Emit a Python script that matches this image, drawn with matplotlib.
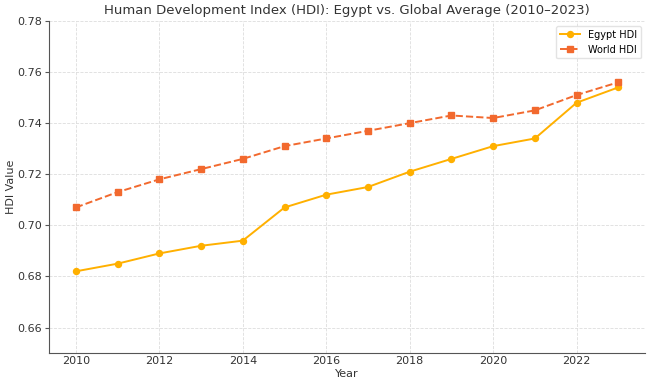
import matplotlib
matplotlib.use("Agg")
import matplotlib.pyplot as plt

years = list(range(2010, 2024))
egypt_hdi = [0.682, 0.685, 0.689, 0.692, 0.694, 0.707, 0.712, 0.715, 0.721, 0.726, 0.731, 0.734, 0.748, 0.754]
world_hdi = [0.707, 0.713, 0.718, 0.722, 0.726, 0.731, 0.734, 0.737, 0.740, 0.743, 0.742, 0.745, 0.751, 0.756]

fig, ax = plt.subplots(figsize=(6.5, 3.88), dpi=100)

ax.plot(years, egypt_hdi, color="#FFB000", marker="o", markersize=4.3, linewidth=1.4, label="Egypt HDI")
ax.plot(years, world_hdi, color="#F2692E", marker="s", markersize=4.3, linewidth=1.4, linestyle="--", label="World HDI")

ax.set_title("Human Development Index (HDI): Egypt vs. Global Average (2010\u20132023)",
             fontsize=9.5, color="#333333", pad=5)
ax.set_xlabel("Year", fontsize=8, color="#333333", labelpad=2)
ax.set_ylabel("HDI Value", fontsize=8, color="#333333", labelpad=1)
ax.set_ylim(0.65, 0.78)
ax.set_xticks(range(2010, 2024, 2))
ax.tick_params(labelsize=8, colors="#333333")
ax.tick_params(axis="x", length=0, pad=2)
ax.tick_params(axis="y", length=3, pad=2, color="#555555")
ax.grid(True, linestyle="--", linewidth=0.6, color="#dddddd")
ax.spines["top"].set_visible(False)
ax.spines["right"].set_visible(False)
for s in ("left", "bottom"):
    ax.spines[s].set_color("#555555")

ax.legend(loc="upper right", fontsize=7, frameon=True, edgecolor="#dddddd")

fig.subplots_adjust(left=0.075, right=0.993, top=0.946, bottom=0.09)
fig.savefig("out.png")
